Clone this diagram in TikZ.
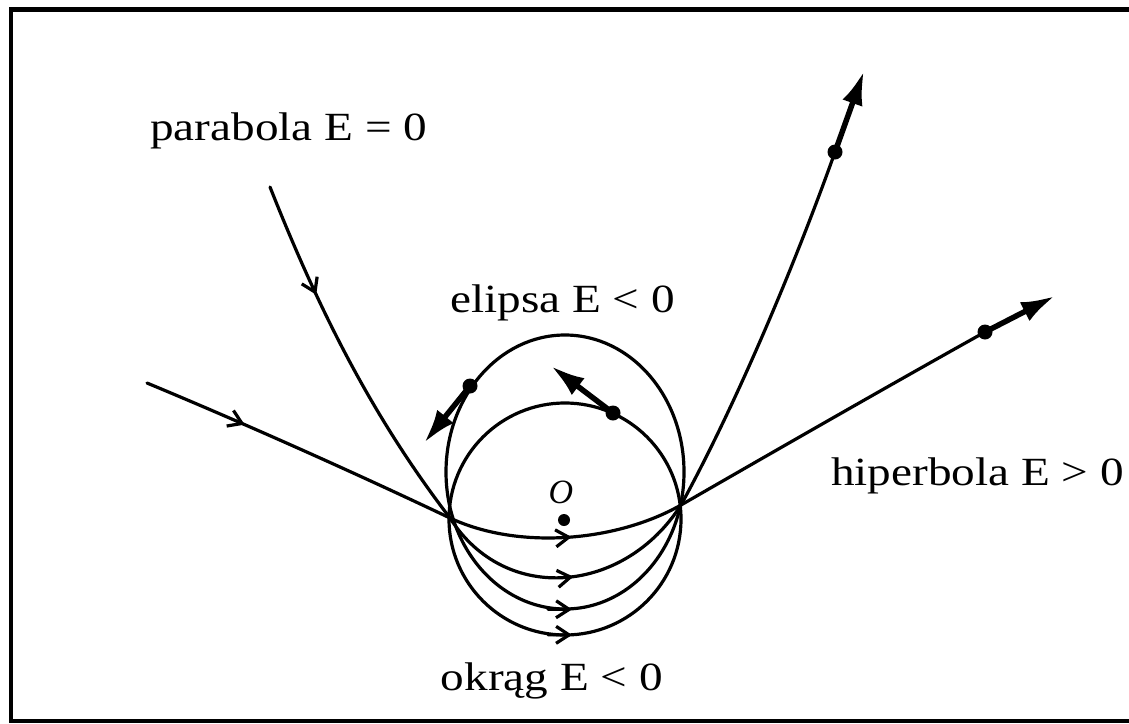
\documentclass[tikz,border=0pt]{standalone}
\usepackage{fontspec}
\setmainfont{Liberation Serif}
\usetikzlibrary{arrows.meta,decorations.markings}
\newcommand{\sx}[1]{\scalebox{1.18}[1]{#1}}
\begin{document}
\begin{tikzpicture}[x=1pt,y=-1pt,
  orbit/.style={line width=3.2pt, line cap=round},
  lbl/.style={font=\fontsize{40}{44}\selectfont, inner sep=0pt},
  dotc/.style={circle, fill=black, inner sep=0pt, minimum size=15pt},
  vel/.style={line width=5.5pt, -{Latex[length=34pt,width=21pt]}},
  chevtip/.style={-{Straight Barb[length=13pt,width=17pt]}},
  chev/.style={postaction={decorate}, decoration={markings,
     mark=at position #1 with {\arrow{Straight Barb[length=13pt,width=17pt]}}}}
]
\useasboundingbox (0,0) rectangle (1129,723);
\draw[line width=4.5pt] (1129,9.5) -- (11,9.5) -- (11,721) -- (1129,721);

% junction points and end points
\coordinate (P1) at (450,518);
\coordinate (P2) at (681,505);
\coordinate (hA) at (147,383);
\coordinate (pA) at (270,187);

% dots
\node[dotc] (dH) at (985,332) {};
\node[dotc] (dP) at (835,152) {};
\node[dotc] (dE) at (470,386) {};
\node[dotc] (dC) at (613,413) {};
\node[dotc, minimum size=12pt] (dO) at (564,520) {};
\coordinate (tH) at (1055,296);
\coordinate (tP) at (864,71);
\coordinate (tE) at (424,443);
\coordinate (tC) at (551,366);

% circle and ellipse
\draw[orbit] (565,519) circle [radius=116];
\draw[orbit] (565,472) ellipse [x radius=119, y radius=137];
\draw[orbit, chevtip] (548,609.2) -- (572,609.4);
\draw[orbit, chevtip] (548,634.8) -- (572,634.9);

% hyperbola
\draw[orbit, chev=0.32] (hA) .. controls (260,430) and (370,480) .. (P1);
\draw[orbit, chev=0.52] (P1) .. controls (518,550) and (616,542) .. (P2);
\draw[orbit] (P2) .. controls (780,448) and (890,385) .. (dH.center);

% parabola
\draw[orbit, chev=0.31] (pA) .. controls (318,308) and (371,415) .. (P1);
\draw[orbit, chev=0.52] (P1) .. controls (506,606) and (625,593) .. (P2);
\draw[orbit] (P2) .. controls (739,399) and (798,256) .. (dP.center);

% velocity vectors
\draw[vel] (dH.center) -- (tH);
\draw[vel] (dP.center) -- (tP);
\draw[vel] (dE.center) -- (tE);
\draw[vel] (dC.center) -- (tC);

% labels
\node[lbl, anchor=base west] (tpar) at (150,140) {\sx{parabola E = 0}};
\node[lbl, anchor=base west] (tel) at (450,312) {\sx{elipsa E < 0}};
\node[lbl, anchor=base west] (thy) at (831,485) {\sx{hiperbola E > 0}};
\node[lbl, anchor=base east] (tok) at (663,690) {\sx{okrąg E < 0}};
\node[font=\fontsize{34}{36}\selectfont\itshape, inner sep=0pt] (lO) at (561,492) {O};
\end{tikzpicture}
\end{document}
